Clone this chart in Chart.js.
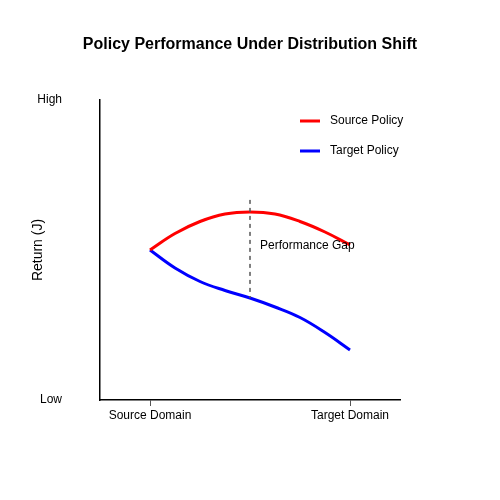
<!DOCTYPE html>
<html><head><script src="https://cdn.jsdelivr.net/npm/chart.js"></script>
<style>body{margin:0}</style></head>
<body><canvas id="c" width="500" height="500" style="width:500px;height:500px"></canvas>
<script>
const xPositions=[1,1.5,2,2.5,3,3.5,4,4.5,5];
const sourcePolicy=[5,5.55,5.95,6.2,6.27,6.2,5.95,5.6,5.17];
const targetPolicy=[5,4.4,3.95,3.65,3.4,3.1,2.75,2.25,1.67];
const xTickLabels={1:'Source Domain',5:'Target Domain'};
const yTickLabels={0:'Low',10:'High'};
const gapX=3, gapTop=6.67, gapBottom=3.4;
const F='"Liberation Sans", Arial, sans-serif';
const extras={id:'extras',afterDraw(ch){
 const c=ch.ctx,x=ch.scales.x,y=ch.scales.y;
 c.save();
 c.fillStyle='#000';c.font='bold 16px '+F;c.textAlign='center';c.textBaseline='middle';
 c.fillText('Policy Performance Under Distribution Shift',250,45);
 c.setLineDash([4,4]);c.strokeStyle='#555';c.lineWidth=1.5;
 c.beginPath();c.moveTo(x.getPixelForValue(gapX),y.getPixelForValue(gapTop));c.lineTo(x.getPixelForValue(gapX),y.getPixelForValue(gapBottom));c.stroke();
 c.setLineDash([]);
 c.font='12px '+F;c.textAlign='left';
 c.fillText('Performance Gap',260,246);
 [['Source Policy','red',121],['Target Policy','blue',151]].forEach(([t,col,yy])=>{
  c.strokeStyle=col;c.lineWidth=3;c.beginPath();c.moveTo(300,yy);c.lineTo(320,yy);c.stroke();
  c.fillText(t,330,yy);
 });
 c.restore();
}};
new Chart(document.getElementById('c'),{type:'line',
 data:{datasets:[
  {label:'Source Policy',data:xPositions.map((v,i)=>({x:v,y:sourcePolicy[i]})),borderColor:'red',borderWidth:3,pointRadius:0,tension:0.4,fill:false},
  {label:'Target Policy',data:xPositions.map((v,i)=>({x:v,y:targetPolicy[i]})),borderColor:'blue',borderWidth:3,pointRadius:0,tension:0.4,fill:false}]},
 options:{responsive:false,animation:false,devicePixelRatio:1,
  layout:{padding:{left:30,right:100,top:100,bottom:60}},
  plugins:{legend:{display:false},tooltip:{enabled:false}},
  scales:{
   x:{type:'linear',min:0,max:6,afterBuildTicks:s=>{s.ticks=[{value:1},{value:5}]},
      afterFit:s=>{s.height=40},
      ticks:{callback:v=>xTickLabels[v],color:'#000',font:{family:F,size:12},padding:2,maxRotation:0},
      grid:{drawOnChartArea:false,drawTicks:true,tickLength:6,color:'#555'},
      border:{display:true,color:'#000',width:1.5}},
   y:{min:0,max:10,afterBuildTicks:s=>{s.ticks=[{value:0},{value:10}]},
      afterFit:s=>{s.width=70},
      ticks:{callback:v=>yTickLabels[v],color:'#000',font:{family:F,size:12},padding:30},
      grid:{display:false},
      border:{display:true,color:'#000',width:1.5},
      title:{display:true,text:'Return (J)',color:'#000',font:{family:F,size:14},padding:0}}
  }},
 plugins:[extras]});
</script></body></html>
